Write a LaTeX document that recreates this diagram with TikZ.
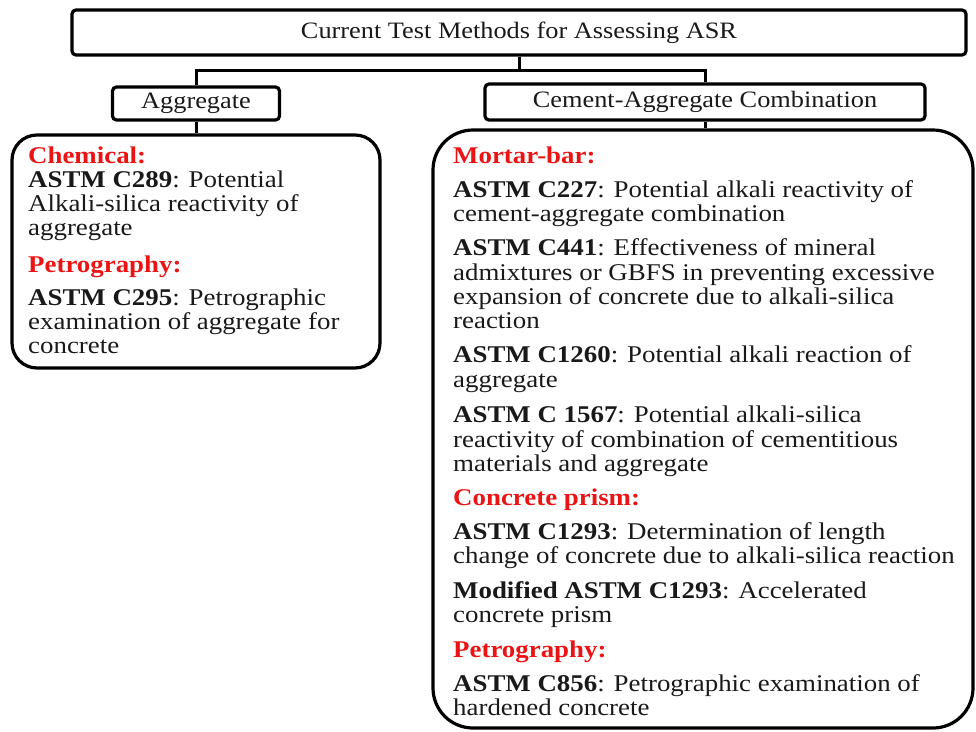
\documentclass[tikz,border=0pt]{standalone}
\usepackage{fontspec}
\setmainfont[FakeStretch=1.12]{Liberation Serif}
\definecolor{hred}{RGB}{235,20,20}
\definecolor{ink}{RGB}{25,25,25}
\begin{document}
\begin{tikzpicture}[x=1pt,y=-1pt,
  box/.style={draw, line width=3.2pt, rounded corners=4pt, inner sep=0pt},
  bigbox/.style={draw, line width=3.2pt, inner sep=0pt},
  conn/.style={line width=3pt},
  txt/.style={anchor=west, inner sep=0pt, text=ink, font=\fontsize{24}{24}\selectfont, text height=0.7em, text depth=0.25em},
  hd/.style={txt, text=hred, font=\fontsize{24}{24}\selectfont\bfseries},
  ctxt/.style={text=ink, font=\fontsize{23.5}{24}\selectfont}]
\useasboundingbox (0,0) rectangle (976,731);
% boxes
\node[box, minimum width=894pt, minimum height=45pt, ctxt] (title) at (519,32.5) {Current Test Methods for Assessing ASR};
\node[box, minimum width=167pt, minimum height=33pt, ctxt] (agg) at (196,103.5) {Aggregate};
\node[box, minimum width=440pt, minimum height=36pt, ctxt] (cem) at (705,102) {Cement-Aggregate Combination};
\node[bigbox, rounded corners=25pt, minimum width=368pt, minimum height=233pt] (lbox) at (196,251.5) {};
\node[bigbox, rounded corners=40pt, minimum width=540pt, minimum height=598pt] (rbox) at (703,429) {};
% connectors
\coordinate (j) at (519,70);
\draw[conn] (title.south) -- (j);
\draw[conn] (agg.north) |- (j) -| (cem.north);
\draw[conn] (agg.south) -- (lbox.north);
\draw[conn] (cem.south) -- (cem.south |- rbox.north);
% left texts
\node[hd] (a1) at (28,161) {Chemical:};
\node[txt] (a2) at (28,185) {\textbf{ASTM C289}: Potential};
\node[txt] (a3) at (28,209) {Alkali-silica reactivity of};
\node[txt] (a4) at (28,233) {aggregate};
\node[hd] (a5) at (28,270) {Petrography:};
\node[txt] (a6) at (28,303) {\textbf{ASTM C295}: Petrographic};
\node[txt] (a7) at (28,327) {examination of aggregate for};
\node[txt] (a8) at (28,351) {concrete};
% right texts
\node[hd] (b1) at (453,161) {Mortar-bar:};
\node[txt] (b2) at (453,195) {\textbf{ASTM C227}: Potential alkali reactivity of};
\node[txt] (b3) at (453,219) {cement-aggregate combination};
\node[txt] (b4) at (453,253) {\textbf{ASTM C441}: Effectiveness of mineral};
\node[txt] (b5) at (453,278) {admixtures or GBFS in preventing excessive};
\node[txt] (b6) at (453,302) {expansion of concrete due to alkali-silica};
\node[txt] (b7) at (453,326) {reaction};
\node[txt] (b8) at (453,360) {\textbf{ASTM C1260}: Potential alkali reaction of};
\node[txt] (b9) at (453,385) {aggregate};
\node[txt] (b10) at (453,420) {\textbf{ASTM C 1567}: Potential alkali-silica};
\node[txt] (b11) at (453,445) {reactivity of combination of cementitious};
\node[txt] (b12) at (453,469) {materials and aggregate};
\node[hd] (b13) at (453,503) {Concrete prism:};
\node[txt] (b14) at (453,537) {\textbf{ASTM C1293}: Determination of length};
\node[txt] (b15) at (453,561) {change of concrete due to alkali-silica reaction};
\node[txt] (b16) at (453,596) {\textbf{Modified ASTM C1293}: Accelerated};
\node[txt] (b17) at (453,620) {concrete prism};
\node[hd] (b18) at (453,655) {Petrography:};
\node[txt] (b19) at (453,689) {\textbf{ASTM C856}: Petrographic examination of};
\node[txt] (b20) at (453,713) {hardened concrete};
\end{tikzpicture}
\end{document}
